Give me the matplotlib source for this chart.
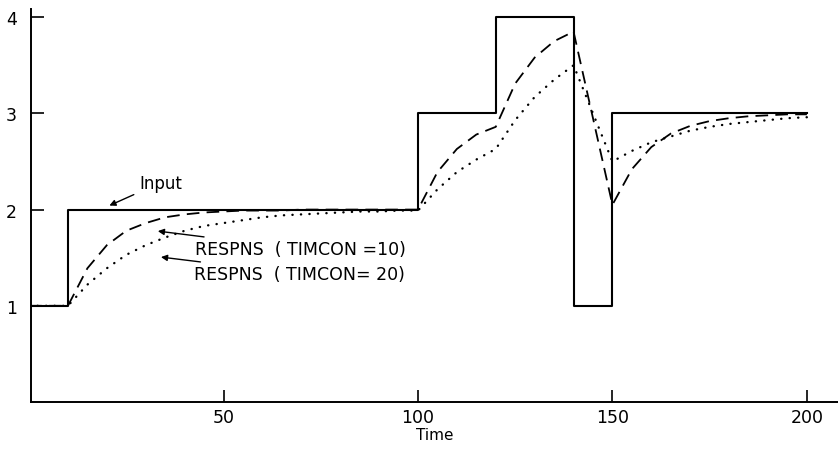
import matplotlib
matplotlib.use("Agg")
import matplotlib.pyplot as plt

# Вхідний ступінчастий сигнал
input_time = [0, 10, 100, 120, 140, 150, 200]
input_value = [1, 2, 3, 4, 1, 3, 3]

# Відгуки, зчитані з графіка кожні 5 одиниць часу
time = list(range(0, 205, 5))
resp_10 = [1.00, 1.00, 1.00, 1.39, 1.63, 1.78, 1.86, 1.92, 1.95, 1.97,
           1.98, 1.99, 1.99, 1.99, 2.00, 2.00, 2.00, 2.00, 2.00, 2.00,
           2.00, 2.39, 2.63, 2.78, 2.86, 3.31, 3.58, 3.75, 3.85, 2.95,
           2.05, 2.42, 2.65, 2.79, 2.87, 2.92, 2.95, 2.97, 2.98, 2.99,
           2.99]
resp_20 = [1.00, 1.00, 1.00, 1.22, 1.39, 1.53, 1.63, 1.71, 1.78, 1.83,
           1.86, 1.89, 1.92, 1.94, 1.95, 1.96, 1.97, 1.98, 1.98, 1.99,
           1.99, 2.21, 2.39, 2.52, 2.63, 2.93, 3.17, 3.35, 3.50, 3.00,
           2.50, 2.61, 2.70, 2.76, 2.82, 2.86, 2.89, 2.91, 2.93, 2.95,
           2.96]

fig = plt.figure(figsize=(8.38, 4.52), dpi=100)
ax = fig.add_axes([31 / 838, 49 / 452, 807 / 838, 393 / 452])

ax.plot(input_time, input_value, drawstyle="steps-post", color="black", linewidth=1.5)
ax.plot(time, resp_10, color="black", linewidth=1.3, linestyle=(0, (7, 4)))
ax.plot(time, resp_20, color="black", linewidth=1.7, linestyle=(0, (0.1, 3.5)),
        dash_capstyle="round")

ax.set_xlim(0.5, 208)
ax.set_ylim(0, 4.085)

for side in ["top", "right"]:
    ax.spines[side].set_visible(False)
for side in ["left", "bottom"]:
    ax.spines[side].set_linewidth(1.4)

ax.set_xticks([50, 100, 150, 200])
ax.set_yticks([1, 2, 3, 4])
ax.tick_params(direction="in", length=9, width=1.2, labelsize=12.5)
ax.tick_params(axis="y", pad=10)
ax.tick_params(axis="x", pad=4)
ax.set_xlabel("Time", fontsize=11, labelpad=1)

arrow = dict(arrowstyle="-|>", color="black", linewidth=1.0, mutation_scale=9)
ax.annotate("Input", xy=(20, 2.03), xytext=(28.3, 2.28), fontsize=12,
            va="center", arrowprops=arrow)
ax.annotate("RESPNS  ( TIMCON =10)", xy=(32.4, 1.78), xytext=(42.7, 1.59), fontsize=12.5,
            va="center", arrowprops=arrow)
ax.annotate("RESPNS  ( TIMCON= 20)", xy=(33.2, 1.51), xytext=(42.3, 1.33), fontsize=12.5,
            va="center", arrowprops=arrow)

plt.savefig("out.png", dpi=100)
